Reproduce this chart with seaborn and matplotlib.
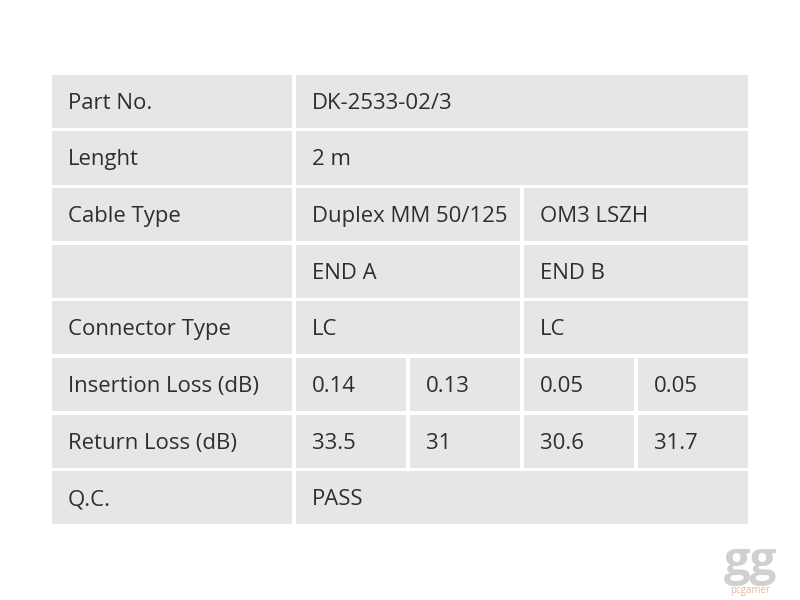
import matplotlib
matplotlib.use("Agg")
import matplotlib.pyplot as plt
import seaborn as sns

sns.set_theme(style="white")
plt.rcParams['font.family'] = ['Open Sans', 'DejaVu Sans']

# column edges (pixel units of the 800x600 canvas)
col_edges = [52, 294, 408, 522, 636, 748]
# rows: label, list of (text, start_col, end_col)
rows = [
    ("Part No.", [("DK-2533-02/3", 1, 5)]),
    ("Lenght", [("2 m", 1, 5)]),
    ("Cable Type", [("Duplex MM 50/125", 1, 3), ("OM3 LSZH", 3, 5)]),
    ("", [("END A", 1, 3), ("END B", 3, 5)]),
    ("Connector Type", [("LC", 1, 3), ("LC", 3, 5)]),
    ("Insertion Loss (dB)", [("0.14", 1, 2), ("0.13", 2, 3), ("0.05", 3, 4), ("0.05", 4, 5)]),
    ("Return Loss (dB)", [("33.5", 1, 2), ("31", 2, 3), ("30.6", 3, 4), ("31.7", 4, 5)]),
    ("Q.C.", [("PASS", 1, 5)]),
]

top, bottom = 73, 526
n = len(rows)
rh = (bottom - top) / n
gap = 3.5
cell_color = "#e6e6e6"
text_color = "#2e2e2e"

fig = plt.figure(figsize=(8, 6), dpi=100)
ax = fig.add_axes([0, 0, 1, 1])
ax.set_xlim(0, 800)
ax.set_ylim(600, 0)
ax.axis("off")

for i, (label, cells) in enumerate(rows):
    y0 = top + i * rh
    yc = y0 + rh / 2
    allcells = [(label, 0, 1)] + cells
    for txt, a, b in allcells:
        x0 = col_edges[a] + (0 if a == 0 else gap / 2)
        x1 = col_edges[b] - (gap / 2 if b < 5 else 0)
        ax.barh(yc, x1 - x0, left=x0, height=rh - gap, color=cell_color, linewidth=0)
        if txt:
            ax.text(x0 + 16, yc + 2, txt, ha="left", va="center", fontsize=15.9, color=text_color)

ax.text(750, 562, "gg", ha="center", va="center", fontsize=34, color="#d0d0d0", fontweight="bold")
ax.text(750, 590, "pcgamer", ha="center", va="center", fontsize=7, color="#e8b8a0")

fig.savefig("out.png", dpi=100)
